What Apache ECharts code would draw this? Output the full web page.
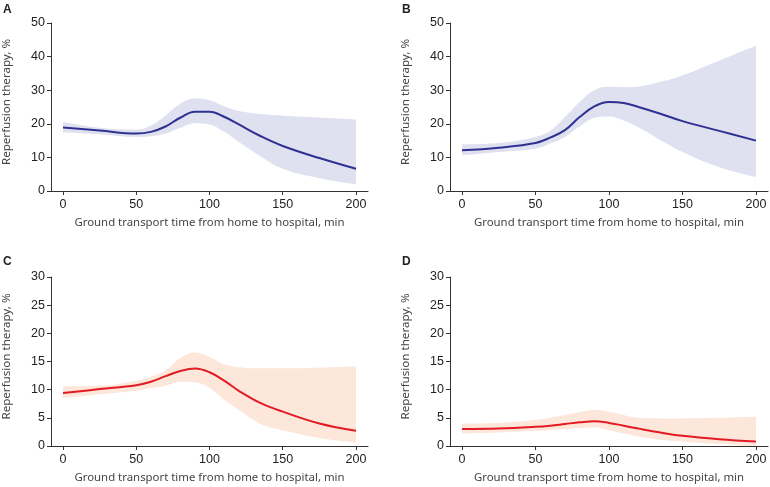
<!DOCTYPE html>
<html>
<head>
<meta charset="utf-8">
<script src="https://cdn.jsdelivr.net/npm/echarts@6/dist/echarts.min.js"></script>
<style>
  html, body { margin: 0; padding: 0; background: #fff; }
  #main { width: 770px; height: 487px; }
</style>
</head>
<body>
<div id="main"></div>
<script>
// transport time, min
var times = [0, 25, 50, 60, 70, 80, 90, 100, 110, 120, 135, 150, 175, 200];

// panel A
var aMid = [18.9, 18.0, 17.1, 17.6, 19.2, 21.8, 23.6, 23.6, 22.1, 19.8, 16.3, 13.4, 9.8, 6.6];
var aUpper = [20.5, 18.8, 18.3, 19.5, 22.5, 26.0, 27.5, 27.0, 25.2, 23.8, 22.9, 22.4, 21.9, 21.3];
var aLower = [17.5, 16.9, 16.1, 16.3, 17.1, 18.8, 20.2, 19.8, 17.6, 14.6, 10.3, 6.6, 3.8, 2.0];

// panel B
var bMid = [12.1, 12.9, 14.3, 15.9, 18.1, 22.0, 25.2, 26.5, 26.2, 25.0, 23.0, 20.8, 17.9, 15.0];
var bUpper = [13.9, 14.3, 16.1, 17.9, 22.0, 26.5, 30.0, 31.0, 30.9, 31.1, 32.5, 34.4, 38.8, 43.2];
var bLower = [10.6, 11.6, 12.6, 14.1, 16.1, 19.2, 21.8, 22.2, 21.0, 19.0, 15.2, 11.6, 7.1, 4.2];

// panel C
var cMid = [9.4, 10.1, 10.8, 11.4, 12.4, 13.3, 13.75, 13.1, 11.6, 9.8, 7.6, 6.1, 4.0, 2.7];
var cUpper = [10.6, 10.7, 11.6, 12.3, 13.4, 15.6, 16.6, 15.8, 14.5, 14.0, 13.8, 13.8, 13.9, 14.1];
var cLower = [8.5, 9.2, 9.8, 10.3, 10.7, 11.4, 11.3, 10.3, 8.2, 6.4, 3.9, 2.8, 1.4, 0.6];

// panel D
var dMid = [3.0, 3.1, 3.4, 3.6, 3.9, 4.2, 4.4, 4.1, 3.6, 3.1, 2.4, 1.8, 1.2, 0.8];
var dUpper = [4.0, 4.1, 4.6, 5.0, 5.5, 6.0, 6.4, 6.1, 5.5, 5.0, 4.9, 4.9, 5.0, 5.2];
var dLower = [2.25, 2.4, 2.7, 2.8, 3.0, 3.2, 3.3, 2.8, 2.2, 1.7, 1.1, 0.8, 0.35, 0.2];

var xTicks = [0, 50, 100, 150, 200];
var panelNames = ['A', 'B', 'C', 'D'];

var blue = '#2e3192', blueBand = '#dfe1f0';
var red = '#e31b23', redBand = '#fde6da';
var font = 'Noto Sans';
var numFont = 'Liberation Sans';

var panels = [
  { mid: aMid, up: aUpper, lo: aLower, line: blue, band: blueBand, max: 50, step: 10 },
  { mid: bMid, up: bUpper, lo: bLower, line: blue, band: blueBand, max: 50, step: 10 },
  { mid: cMid, up: cUpper, lo: cLower, line: red, band: redBand, max: 30, step: 5 },
  { mid: dMid, up: dUpper, lo: dLower, line: red, band: redBand, max: 30, step: 5 }
];

var grids = [
  { left: 50, top: 23, width: 318, height: 168 },
  { left: 450, top: 23, width: 318, height: 168 },
  { left: 50, top: 277, width: 318, height: 169 },
  { left: 450, top: 277, width: 318, height: 169 }
];

function pairs(arr) {
  return times.map(function (t, i) { return [t, arr[i]]; });
}

var xAxes = [], yAxes = [], series = [], titles = [];
panels.forEach(function (p, i) {
  xAxes.push({
    type: 'value', gridIndex: i, min: -8.2, max: 208.2, z: 10,
    name: 'Ground transport time from home to hospital, min',
    nameLocation: 'middle', nameGap: 26,
    nameTextStyle: { color: '#444', fontSize: 11.4, fontFamily: font },
    axisLine: { onZero: false, lineStyle: { color: '#333', width: 1 } },
    axisTick: { customValues: xTicks, length: 4, lineStyle: { color: '#333' } },
    axisLabel: { customValues: xTicks, color: '#222', fontSize: 12.5, fontFamily: numFont, margin: 7 },
    splitLine: { show: false }
  });
  yAxes.push({
    type: 'value', gridIndex: i, min: 0, max: p.max, interval: p.step, z: 10,
    name: 'Reperfusion therapy, %',
    nameLocation: 'middle', nameGap: 38, nameRotate: 90,
    nameTextStyle: { color: '#444', fontSize: 11.6, fontFamily: font, padding: [0, 0, 0, 10] },
    axisLine: { show: true, onZero: false, lineStyle: { color: '#333', width: 1 } },
    axisTick: { show: true, length: 4, lineStyle: { color: '#333' } },
    axisLabel: { color: '#222', fontSize: 12.5, fontFamily: numFont, margin: 6 },
    splitLine: { show: false }
  });
  // band: fill under upper bound, then mask under lower bound with white
  series.push({
    type: 'line', xAxisIndex: i, yAxisIndex: i,
    data: pairs(p.up), smooth: 0.4, symbol: 'none', silent: true,
    lineStyle: { width: 0, color: p.band }, areaStyle: { color: p.band, opacity: 1 }, z: 1
  });
  series.push({
    type: 'line', xAxisIndex: i, yAxisIndex: i,
    data: pairs(p.lo), smooth: 0.4, symbol: 'none', silent: true,
    lineStyle: { width: 0, color: '#fff' }, areaStyle: { color: '#fff', opacity: 1 }, z: 2
  });
  series.push({
    type: 'line', xAxisIndex: i, yAxisIndex: i,
    data: pairs(p.mid), smooth: 0.4, symbol: 'none',
    lineStyle: { color: p.line, width: 2 }, z: 5
  });
  titles.push({
    text: panelNames[i], padding: 0,
    left: i % 2 ? 402 : 3,
    top: i < 2 ? 4 : 256,
    textStyle: { fontSize: 12, fontWeight: 'bold', color: '#222', fontFamily: numFont }
  });
});

var chart = echarts.init(document.getElementById('main'));
chart.setOption({
  animation: false,
  title: titles,
  grid: grids,
  xAxis: xAxes,
  yAxis: yAxes,
  series: series
});
</script>
</body>
</html>
